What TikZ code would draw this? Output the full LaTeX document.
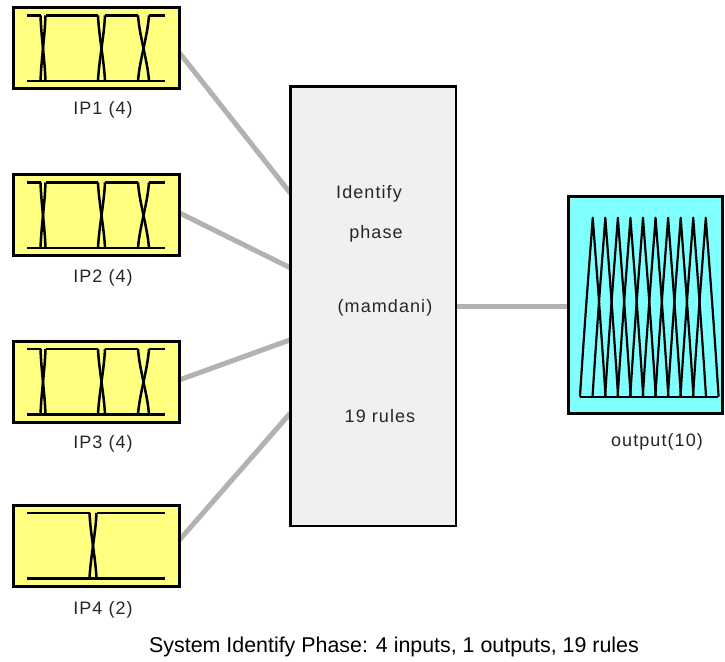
\documentclass[tikz,border=0pt]{standalone}
\usepackage{fontspec}
\setmainfont{Liberation Sans}
\newfontfamily\lblfont[LetterSpace=6]{Liberation Sans}
\usetikzlibrary{calc,backgrounds}

\definecolor{inyellow}{RGB}{255,255,128}
\definecolor{outcyan}{RGB}{128,255,255}
\definecolor{fispaper}{RGB}{240,240,240}
\definecolor{linkgray}{RGB}{178,178,178}

\tikzset{
  varbox/.style={draw=black, line width=3pt, inner sep=0pt, outer sep=0pt,
                 minimum width=166pt, minimum height=81pt, fill=inyellow},
  outbox/.style={draw=black, line width=3pt, inner sep=0pt, outer sep=0pt,
                 minimum width=154.5pt, minimum height=217.5pt, fill=outcyan},
  fisbox/.style={draw=black, line width=2.5pt, inner sep=0pt, outer sep=0pt,
                 minimum width=165.5pt, minimum height=439.5pt, fill=fispaper},
  link/.style={draw=linkgray, line width=5pt},
  mfline/.style={draw=black, line width=2.5pt, line join=round},
  varlabel/.style={anchor=base, inner sep=0pt, font=\lblfont\fontsize{18}{20}\selectfont, text=black!85},
  fistext/.style={anchor=base, inner sep=0pt, font=\lblfont\fontsize{18}{20}\selectfont, text=black!85},
  caption/.style={anchor=base, inner sep=0pt, font=\fontsize{21.4}{24}\selectfont}
}

% crossing of a falling and a rising edge of neighbouring input sets
\newcommand{\mfcross}[2]{%
  \draw[mfline] (#1,8) .. controls ({#1+0.15*(#2-#1)},30) and ({#2-0.15*(#2-#1)},52) .. (#2,73.5);
  \draw[mfline] (#1,73.5) .. controls ({#1+0.15*(#2-#1)},52) and ({#2-0.15*(#2-#1)},30) .. (#2,8);
}
% four input membership functions
\newcommand{\fourmf}{%
  \draw[mfline] (13.5,73.5) -- (151.5,73.5);
  \draw[mfline] (13.5,8) -- (27,8);
  \draw[mfline] (32,8) -- (84.5,8);
  \draw[mfline] (91.5,8) -- (124.5,8);
  \draw[mfline] (135.5,8) -- (151.5,8);
  \mfcross{27}{32}
  \mfcross{84.5}{91.5}
  \mfcross{124.5}{135.5}
}
% two input membership functions
\newcommand{\twomf}{%
  \draw[mfline] (13.5,73.5) -- (151.5,73.5);
  \draw[mfline] (13.5,8) -- (76,8);
  \draw[mfline] (83,8) -- (151.5,8);
  \mfcross{76}{83}
}

\begin{document}
\begin{tikzpicture}[x=1pt, y=-1pt]
  \useasboundingbox (0,0) rectangle (725,661);

  % input variables
  \node[varbox] (ip1) at (96.5,48) {};
  \node[varbox] (ip2) at (96.5,215) {};
  \node[varbox] (ip3) at (96.5,381.5) {};
  \node[varbox] (ip4) at (96.5,545.5) {};

  % rule block
  \node[fisbox] (fis) at (373,306) {};

  % output variable
  \node[outbox] (out) at (645.5,305) {};

  % connectors, behind the boxes
  \begin{scope}[on background layer]
    \fill[white] (0,0) rectangle (725,661);
    \draw[link] ($(ip1.north east)!0.56!(ip1.south east)$) -- ($(fis.north west)!0.243!(fis.south west)$);
    \draw[link] ($(ip2.north east)!0.475!(ip2.south east)$) -- ($(fis.north west)!0.413!(fis.south west)$);
    \draw[link] ($(ip3.north east)!0.48!(ip3.south east)$) -- ($(fis.north west)!0.577!(fis.south west)$);
    \draw[link] ($(ip4.north east)!0.43!(ip4.south east)$) -- ($(fis.north west)!0.744!(fis.south west)$);
    \draw[link] (fis.east) -- (fis.east -| out.west);
  \end{scope}

  % membership function sketches
  \begin{scope}[shift={(ip1.north west)}] \fourmf \end{scope}
  \begin{scope}[shift={(ip2.north west)}] \fourmf \end{scope}
  \begin{scope}[shift={(ip3.north west)}] \fourmf \end{scope}
  \begin{scope}[shift={(ip4.north west)}] \twomf \end{scope}

  % ten triangular output membership functions
  \begin{scope}[shift={(out.north west)}]
    \draw[mfline] (12,200.5) -- (150,200.5);
    \foreach \i in {0,...,9} {
      \pgfmathsetmacro{\pk}{24.5+12.56*\i}
      \draw[mfline, line width=2.2pt] ({\pk-12.8},200.5) .. controls ({\pk-7},110) and ({\pk-2},50) .. (\pk,21.5)
                    .. controls ({\pk+2},50) and ({\pk+7},110) .. ({\pk+12.8},200.5);
    }
  \end{scope}

  % labels
  \node[varlabel] (l1) at (103,114) {IP1 (4)};
  \node[varlabel] (l2) at (103,282) {IP2 (4)};
  \node[varlabel] (l3) at (103,448) {IP3 (4)};
  \node[varlabel] (l4) at (103,614) {IP4 (2)};
  \node[varlabel] (lo) at (657,446) {output(10)};

  \node[fistext] (f1) at (369,198) {Identify};
  \node[fistext] (f2) at (376,238) {phase};
  \node[fistext] (f3) at (385,312) {(mamdani)};
  \node[fistext] (f4) at (380,422) {19 rules};

  \node[caption] (cap) at (394,652) {System Identify Phase: 4 inputs, 1 outputs, 19 rules};
\end{tikzpicture}
\end{document}
